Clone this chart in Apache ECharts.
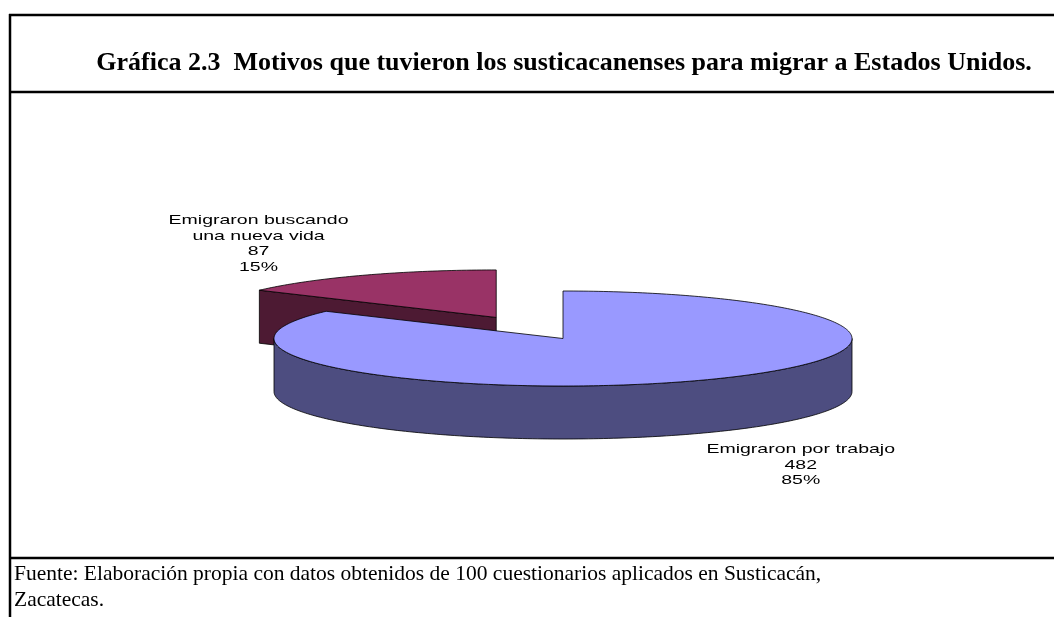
<!DOCTYPE html>
<html>
<head>
<meta charset="utf-8">
<script src="https://cdn.jsdelivr.net/npm/echarts@6/dist/echarts.min.js"></script>
<style>
  html, body { margin: 0; padding: 0; background: #fff; }
  #main { width: 1054px; height: 617px; }
</style>
</head>
<body>
<div id="main"></div>
<script>
// datos de la grafica
const categories = ['Emigraron por trabajo', 'Emigraron buscando una nueva vida'];
const counts = [482, 87];
const topColors = ['#9999FF', '#993366'];
const sideColors = ['#4D4D80', '#4D1A33'];
const explode = [0, 0.5];

const titleText = 'Gráfica 2.3  Motivos que tuvieron los susticacanenses para migrar a Estados Unidos.';
const sourceLines = [
  'Fuente: Elaboración propia con datos obtenidos de 100 cuestionarios aplicados en Susticacán,',
  'Zacatecas.'
];

// geometria del pastel 3D
const CX = 563, CY = 338.5, RX = 289, RY = 47.5, DEPTH = 53;
const LABEL_KX = 1.78, LABEL_KY = 1.75;

const total = counts.reduce((a, b) => a + b, 0);
let acc = 0;
const slices = counts.map((v, i) => {
  const a0 = acc / total * 360;
  acc += v;
  const a1 = acc / total * 360;
  const mid = (a0 + a1) / 2 * Math.PI / 180;
  return {
    a0: a0, a1: a1, mid: mid,
    cx: CX + Math.sin(mid) * RX * explode[i],
    cy: CY - Math.cos(mid) * RY * explode[i]
  };
});

function wrap(text, maxChars) {
  const words = text.split(' ');
  const lines = [];
  let cur = '';
  words.forEach(w => {
    if (cur && (cur + ' ' + w).length > maxChars) {
      lines.push(cur);
      cur = w;
    } else {
      cur = cur ? cur + ' ' + w : w;
    }
  });
  if (cur) lines.push(cur);
  return lines.join('\n');
}

function rim(s, deg, dy) {
  const t = deg * Math.PI / 180;
  return [s.cx + Math.sin(t) * RX, s.cy - Math.cos(t) * RY + (dy || 0)];
}

function arcPts(s, from, to, dy) {
  const pts = [];
  const n = Math.max(2, Math.ceil(Math.abs(to - from)));
  for (let k = 0; k <= n; k++) {
    pts.push(rim(s, from + (to - from) * k / n, dy));
  }
  return pts;
}

const lineStyle = { stroke: '#000', lineWidth: 0.8 };

function renderItem(params, api) {
  const i = params.dataIndex;
  const s = slices[i];
  // las rebanadas de atras se dibujan primero
  const depthRank = s.cy;
  const children = [];

  // caras radiales visibles
  [[s.a0, true], [s.a1, false]].forEach(([a, isStart]) => {
    const sn = Math.sin(a * Math.PI / 180);
    const visible = isStart ? sn < -1e-6 : sn > 1e-6;
    if (!visible) return;
    const p = rim(s, a, 0);
    children.push({
      type: 'polygon',
      z2: depthRank,
      shape: { points: [[s.cx, s.cy], p, [p[0], p[1] + DEPTH], [s.cx, s.cy + DEPTH]] },
      style: Object.assign({ fill: sideColors[i] }, lineStyle)
    });
  });

  // lado exterior (mitad frontal)
  const f0 = Math.max(s.a0, 90), f1 = Math.min(s.a1, 270);
  if (f1 > f0) {
    const up = arcPts(s, f0, f1, 0);
    const down = arcPts(s, f0, f1, DEPTH).reverse();
    children.push({
      type: 'polygon',
      z2: depthRank + 0.1,
      shape: { points: up.concat(down) },
      style: Object.assign({ fill: sideColors[i] }, lineStyle)
    });
  }

  // cara superior
  children.push({
    type: 'polygon',
    z2: depthRank + 0.2,
    shape: { points: [[s.cx, s.cy]].concat(arcPts(s, s.a0, s.a1, 0)) },
    style: Object.assign({ fill: topColors[i] }, lineStyle)
  });

  // etiqueta
  const lx = s.cx + Math.sin(s.mid) * RX * LABEL_KX;
  const ly = s.cy - Math.cos(s.mid) * RY * LABEL_KY + (Math.cos(s.mid) < 0 ? DEPTH : 0);
  const pct = Math.round(counts[i] / total * 100) + '%';
  children.push({
    type: 'text',
    z2: 1000,
    x: lx, y: ly,
    scaleX: 1.5,
    style: {
      text: wrap(categories[i], 21) + '\n' + counts[i] + '\n' + pct,
      x: 0, y: 0,
      align: 'center',
      verticalAlign: 'middle',
      font: '13px "Liberation Sans", Arial, sans-serif',
      lineHeight: 15.5,
      fill: '#000'
    }
  });

  return { type: 'group', children: children };
}

const chart = echarts.init(document.getElementById('main'), null, { renderer: 'canvas' });

const borderStyle = { stroke: '#000', lineWidth: 2.5 };

chart.setOption({
  backgroundColor: '#fff',
  animation: false,
  graphic: [
    { type: 'line', shape: { x1: 10, y1: 14, x2: 10, y2: 617 }, style: borderStyle },
    { type: 'line', shape: { x1: 9, y1: 15, x2: 1054, y2: 15 }, style: borderStyle },
    { type: 'line', shape: { x1: 9, y1: 92, x2: 1054, y2: 92 }, style: borderStyle },
    { type: 'line', shape: { x1: 9, y1: 558, x2: 1054, y2: 558 }, style: borderStyle },
    {
      type: 'text', x: 564, y: 63,
      style: {
        text: titleText,
        font: 'bold 26px "Liberation Serif", "Times New Roman", serif',
        align: 'center', verticalAlign: 'middle', fill: '#000'
      }
    },
    {
      type: 'text', x: 14, y: 561,
      style: {
        text: sourceLines.join('\n'),
        font: '21.5px "Liberation Serif", "Times New Roman", serif',
        lineHeight: 26,
        align: 'left', verticalAlign: 'top', fill: '#000'
      }
    }
  ],
  series: [{
    type: 'custom',
    coordinateSystem: 'none',
    silent: true,
    data: counts.map((v, i) => ({ name: categories[i], value: v })),
    renderItem: renderItem
  }]
});
</script>
</body>
</html>
